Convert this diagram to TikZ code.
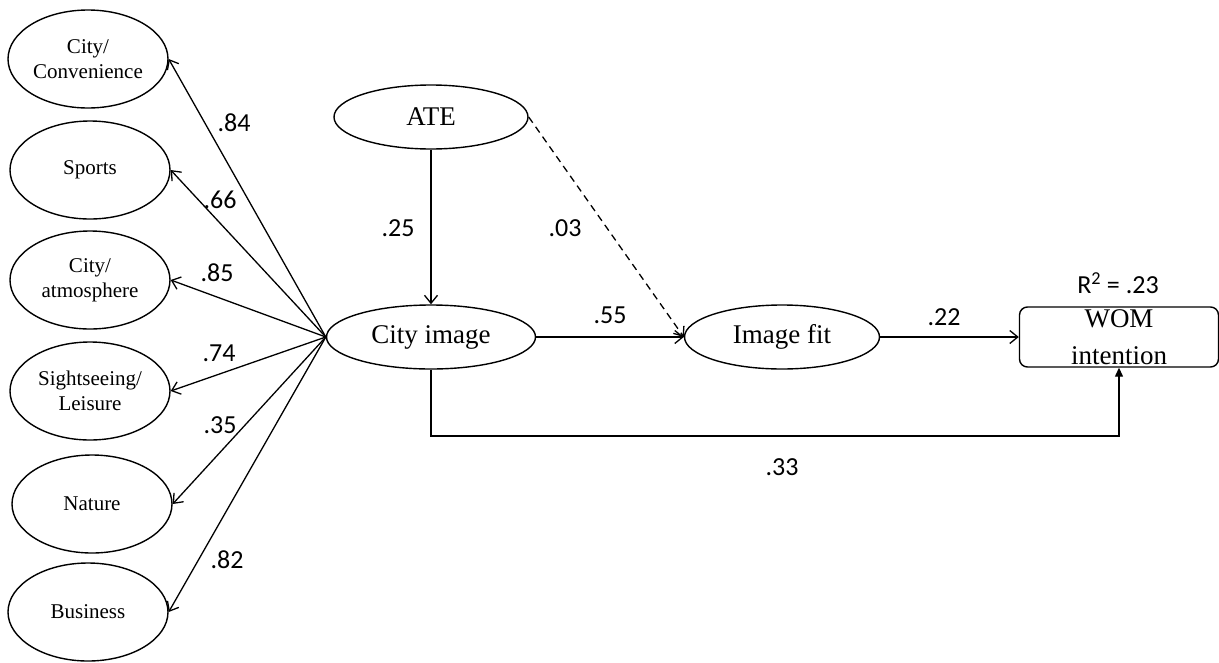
\documentclass[tikz,border=0pt]{standalone}
\usepackage{fontspec}
\setmainfont{Liberation Serif}
\newfontfamily\labfont{Carlito}
\usetikzlibrary{shapes.geometric,arrows.meta}
\tikzset{
  lat/.style={ellipse,draw,line width=1.4pt,inner sep=0pt,minimum width=160pt,minimum height=98pt,align=center,font=\fontsize{21}{25}\selectfont},
  mid/.style={ellipse,draw,line width=1.4pt,inner sep=0pt,align=center,font=\fontsize{27}{31}\selectfont},
  wombox/.style={rectangle,draw,line width=1.4pt,rounded corners=8pt,inner sep=0pt,minimum width=199pt,minimum height=60pt,align=center,font=\fontsize{27}{35}\selectfont},
  conn/.style={line width=1.3pt,-{Straight Barb[length=8pt,width=13pt]}},
  coef/.style={font=\labfont\fontsize{26}{30}\selectfont,inner sep=0pt}
}
\begin{document}
\begin{tikzpicture}[x=1pt,y=-1pt]
\useasboundingbox (0,0) rectangle (1219,662);
\node[lat] (c1) at (88,59) {City/\\Convenience};
\node[lat] (c2) at (90,170) {Sports};
\node[lat] (c3) at (90,280) {City/\\atmosphere};
\node[lat] (c4) at (90,391) {Sightseeing/\\Leisure};
\node[lat] (c5) at (92,504) {Nature};
\node[lat] (c6) at (88,612) {Business};
\node[mid,minimum width=194pt,minimum height=64pt] (ate) at (431,117) {ATE};
\node[mid,minimum width=209pt,minimum height=64pt] (ci) at (431,337) {City image};
\node[mid,minimum width=195pt,minimum height=64pt] (fit) at (782,337) {Image fit};
\node[wombox] (wom) at (1119,337) {\raisebox{2pt}{WOM}\\intention};

\foreach \t in {c1,c2,c3,c4,c5,c6}
  \draw[conn] (ci.west) -- (\t.east);
\draw[conn] (ate.south) -- (ci.north);
\draw[conn,dashed,dash pattern=on 7pt off 5pt] (ate.east) -- (fit.west);
\draw[conn] (ci.east) -- (fit.west);
\draw[conn] (fit.east) -- (wom.west);
\draw[line width=1.3pt,-{Triangle[length=9pt,width=8pt]}] (ci.south) -- (ci.south |- 0,436) -| (wom.south);

\node[coef] (l1) at (234,123) {.84};
\node[coef] (l2) at (220,200) {.66};
\node[coef] (l3) at (217,273) {.85};
\node[coef] (l4) at (219,353) {.74};
\node[coef] (l5) at (220,425) {.35};
\node[coef] (l6) at (227,560) {.82};
\node[coef] (l7) at (398,228) {.25};
\node[coef] (l8) at (565,228) {.03};
\node[coef] (l9) at (610,315) {.55};
\node[coef] (l10) at (944,317) {.22};
\node[coef] (l11) at (1118,283) {R\textsuperscript{2} = .23};
\node[coef] (l12) at (782,467) {.33};
\end{tikzpicture}
\end{document}
